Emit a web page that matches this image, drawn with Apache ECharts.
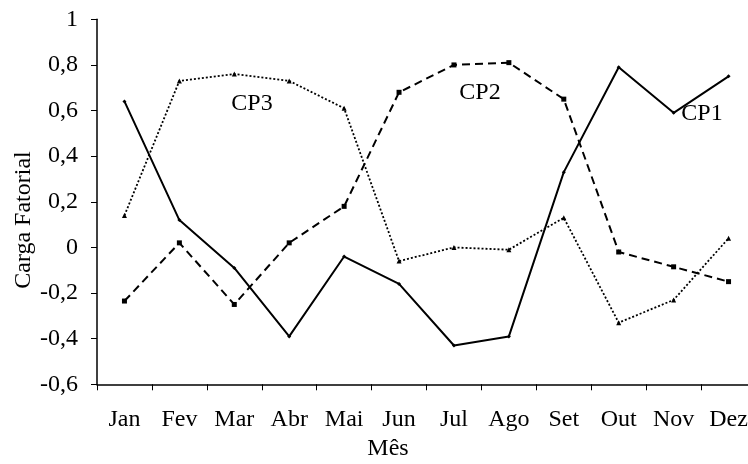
<!DOCTYPE html>
<html><head><meta charset="utf-8">
<script src="https://cdn.jsdelivr.net/npm/echarts@6/dist/echarts.min.js"></script>
<style>html,body{margin:0;padding:0;background:#fff}#c{width:748px;height:464px}</style>
</head><body><div id="c"></div>
<script>
const months = ['Jan','Fev','Mar','Abr','Mai','Jun','Jul','Ago','Set','Out','Nov','Dez'];
const cp1 = [0.64, 0.12, -0.09, -0.39, -0.04, -0.16, -0.43, -0.39, 0.33, 0.79, 0.59, 0.75];
const cp2 = [-0.235, 0.02, -0.25, 0.02, 0.18, 0.68, 0.80, 0.81, 0.65, -0.02, -0.085, -0.15];
const cp3 = [0.14, 0.73, 0.76, 0.73, 0.61, -0.06, 0.00, -0.01, 0.13, -0.33, -0.23, 0.04];
const yTicks = ['-0,6','-0,4','-0,2','0','0,2','0,4','0,6','0,8','1'];
const seriesNames = ['CP1','CP2','CP3'];

const font = 'Liberation Serif';
const chart = echarts.init(document.getElementById('c'), null, {renderer:'canvas'});
function lineSeries(name, data, type, symbol, size, width){
  return {
    name, type:'line', data, symbol, symbolSize:size,
    itemStyle:{color:'#000'},
    lineStyle:{color:'#000', width, type},
    animation:false
  };
}
chart.setOption({
  backgroundColor:'#fff',
  grid:{left:97, top:19.3, right:-8, bottom:79.7, containLabel:false, outerBoundsMode:'none'},
  xAxis:{
    type:'category', data:months, boundaryGap:true,
    axisLine:{onZero:false, lineStyle:{color:'#000', width:1.5}},
    axisTick:{show:true, length:6, lineStyle:{color:'#000', width:1}},
    axisLabel:{color:'#000', fontFamily:font, fontSize:24, margin:23}
  },
  yAxis:{
    type:'value', min:-0.6, max:1, interval:0.2,
    axisLine:{show:true, lineStyle:{color:'#000', width:1.5}},
    axisTick:{show:true, length:6, lineStyle:{color:'#000', width:1}},
    splitLine:{show:false},
    axisLabel:{color:'#000', fontFamily:font, fontSize:24, margin:19,
      formatter:function(v){ const i = Math.round((v+0.6)/0.2); return yTicks[i]; }}
  },
  series:[
    lineSeries(seriesNames[0], cp1, 'solid', 'diamond', 4, 2),
    lineSeries(seriesNames[1], cp2, [8,5], 'rect', 5, 2),
    lineSeries(seriesNames[2], cp3, [2,2], 'triangle', 5, 1.8)
  ],
  graphic:[
    {type:'text', x:252, y:104, style:{text:'CP3', font:'24px "Liberation Serif"', fill:'#000', align:'center', verticalAlign:'middle'}},
    {type:'text', x:480, y:93, style:{text:'CP2', font:'24px "Liberation Serif"', fill:'#000', align:'center', verticalAlign:'middle'}},
    {type:'text', x:702, y:114, style:{text:'CP1', font:'24px "Liberation Serif"', fill:'#000', align:'center', verticalAlign:'middle'}},
    {type:'text', x:388, y:449, style:{text:'Mês', font:'24px "Liberation Serif"', fill:'#000', align:'center', verticalAlign:'middle'}},
    {type:'text', x:24, y:220, rotation:Math.PI/2, style:{text:'Carga Fatorial', font:'24px "Liberation Serif"', fill:'#000', align:'center', verticalAlign:'middle'}}
  ]
});
</script></body></html>
